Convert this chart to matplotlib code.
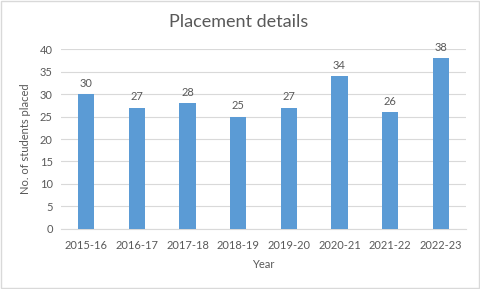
import matplotlib
matplotlib.use("Agg")
import matplotlib.pyplot as plt

years = ["2015-16", "2016-17", "2017-18", "2018-19", "2019-20", "2020-21", "2021-22", "2022-23"]
placed = [30, 27, 28, 25, 27, 34, 26, 38]

plt.rcParams['font.family'] = ['Lato', 'DejaVu Sans']
text_col = '#595959'

fig = plt.figure(figsize=(4.8, 2.89), dpi=100)
ax = fig.add_axes([0.127, 0.208, 0.844, 0.622])

x = range(len(years))
bars = ax.bar(x, placed, width=0.32, color='#5b9bd5', zorder=3)
for b, v in zip(bars, placed):
    ax.text(b.get_x() + b.get_width() / 2, v + 1.2, str(v), ha='center', va='bottom',
            fontsize=8, color=text_col)

ax.set_xlim(-0.5, len(years) - 0.5)
ax.set_ylim(0, 40)
ax.set_yticks(range(0, 41, 5))
ax.set_xticks(list(x))
ax.set_xticklabels(years)
ax.tick_params(axis='both', length=0, labelsize=8, labelcolor=text_col)
ax.tick_params(axis='x', pad=8)
ax.tick_params(axis='y', pad=6)
ax.grid(axis='y', color='#d9d9d9', linewidth=0.8, zorder=0)
for s in ['top', 'right', 'left']:
    ax.spines[s].set_visible(False)
ax.spines['bottom'].set_color('#d9d9d9')

ax.set_xlabel('Year', fontsize=8, color=text_col, labelpad=6)
ax.set_ylabel('No. of students placed', fontsize=8, color=text_col, labelpad=6)
fig.text(0.498, 0.925, 'Placement details', ha='center', va='center', fontsize=13, color=text_col)

fig.patches.append(plt.Rectangle((0.002, 0.003), 0.995, 0.994, transform=fig.transFigure,
                                 fill=False, edgecolor='#d9d9d9', linewidth=1))

fig.savefig('out.png', dpi=100)
